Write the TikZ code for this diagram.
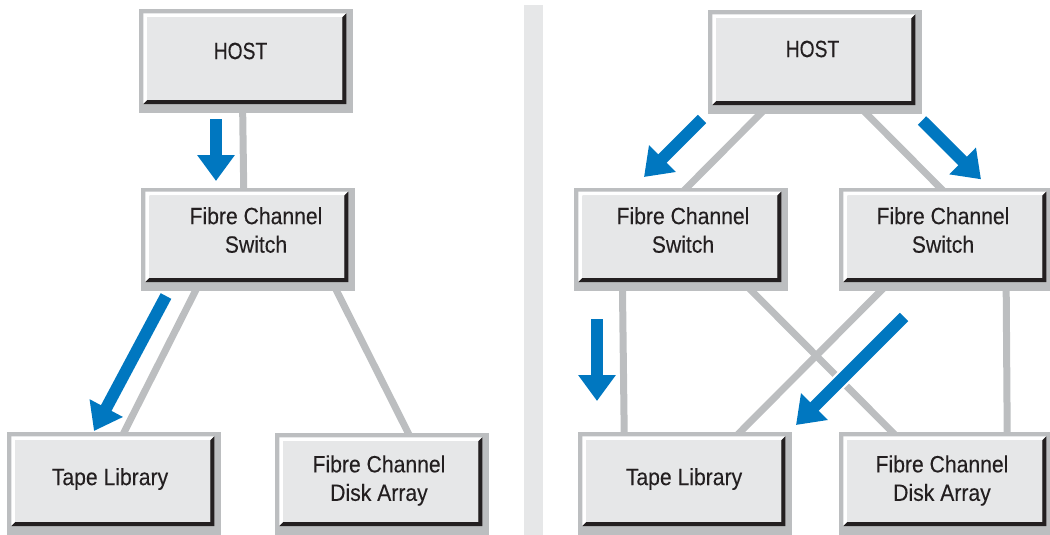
\documentclass[tikz,border=0pt]{standalone}
\usepackage{fontspec}
\setmainfont[FakeStretch=0.90,FakeBold=0.15]{Liberation Sans}
\newfontfamily\hostfont[FakeStretch=0.82,FakeBold=0.15]{Liberation Sans}
\usetikzlibrary{arrows.meta,calc}
\definecolor{frameg}{HTML}{BCBEC0}
\definecolor{faceg}{HTML}{E6E7E8}
\definecolor{bluea}{HTML}{0077C0}
\definecolor{ink}{HTML}{231F20}
\pgfdeclarelayer{lines}\pgfsetlayers{lines,main}
\tikzset{
  link/.style={draw=frameg,line width=7pt,shorten <=-5pt,shorten >=-5pt},
  flow/.style={draw=bluea,line width=12pt,-{Triangle[length=26pt,width=36pt]}},
  halo/.style={draw=white,line width=16pt,shorten >=30pt},
  boxtext/.style={text=ink,font=\fontsize{23.5}{28.5}\selectfont,align=center,inner sep=0pt},
  frame/.style={fill=frameg,draw=none,inner sep=0pt,anchor=north west}
}
% name, x0, y0, x1, y1, text x, text y, text
\newcommand{\panel}[8]{%
  \pgfmathsetmacro{\pw}{#4-#2}\pgfmathsetmacro{\ph}{#5-#3}%
  \node[frame,minimum width=\pw pt,minimum height=\ph pt] (#1) at (#2,#3) {};
  \pgfmathsetmacro{\xa}{#2+4.3}\pgfmathsetmacro{\ya}{#3+4.3}%
  \pgfmathsetmacro{\xb}{#4-6.7}\pgfmathsetmacro{\yb}{#5-9}%
  \pgfmathsetmacro{\xc}{\xa+4}\pgfmathsetmacro{\yc}{\ya+4}%
  \pgfmathsetmacro{\xd}{\xb-4}\pgfmathsetmacro{\yd}{\yb-4}%
  \fill[white] (\xa,\ya) -- (\xb,\ya) -- (\xd,\yc) -- (\xc,\yc) -- (\xc,\yd) -- (\xa,\yb) -- cycle;
  \fill[ink] (\xb,\yb) -- (\xb,\ya) -- (\xd,\yc) -- (\xd,\yd) -- (\xc,\yd) -- (\xa,\yb) -- cycle;
  \fill[faceg] (\xc,\yc) rectangle (\xd,\yd);
  \node[boxtext] (#1t) at (#6,#7) {#8};
}
\begin{document}
\begin{tikzpicture}[x=1pt,y=-1pt]
\useasboundingbox (0,0) rectangle (1050,535);
\fill[faceg] (524,5) rectangle (543,535);
\panel{lh}{139}{9}{353}{113}{240.5}{51}{\hostfont HOST}
\panel{ls}{141}{187.3}{355}{291}{256}{230}{Fibre Channel\\Switch}
\panel{lt}{7}{432}{221}{535}{110}{479}{Tape Library}
\panel{ld}{275}{433}{489}{535}{379}{480.5}{Fibre Channel\\Disk Array}
\panel{rh}{708}{10}{922}{114}{812.5}{49}{\hostfont HOST}
\panel{ra}{574}{187.3}{788}{291}{683}{230}{Fibre Channel\\Switch}
\panel{rb}{839}{187.3}{1053}{291}{943}{230}{Fibre Channel\\Switch}
\panel{rt}{578}{432}{792}{535}{684}{479}{Tape Library}
\panel{rd}{839}{432}{1053}{535}{942}{480.5}{Fibre Channel\\Disk Array}
\begin{pgfonlayer}{lines}
\draw[link] ([xshift=-3.5pt]lh.south) -- ([xshift=-4.5pt]ls.north);
\draw[link] ([xshift=-53pt]ls.south) -- ([xshift=10pt]lt.north);
\draw[link] ([xshift=88.7pt]ls.south) -- ([xshift=26pt]ld.north);
\draw[link] ([xshift=-55.5pt]rh.south) -- ([xshift=6pt]ra.north);
\draw[link] ([xshift=52pt]rh.south) -- ([xshift=-6.5pt]rb.north);
\draw[link] ([xshift=-58.7pt]ra.south) -- ([xshift=-61pt]rt.north);
\draw[link] ([xshift=71pt]ra.south) -- ([xshift=-54pt]rd.north);
\draw[link] ([xshift=-66pt]rb.south) -- ([xshift=55pt]rt.north);
\draw[link] ([xshift=60pt]rb.south) -- ([xshift=61pt]rd.north);
\end{pgfonlayer}
\coordinate (f1a) at (216,119); \coordinate (f1b) at (216,181);
\coordinate (f2a) at (166,296); \coordinate (f2b) at (94,431);
\coordinate (f3a) at (702,119); \coordinate (f3b) at (644,177);
\coordinate (f4a) at (922,120.5); \coordinate (f4b) at (981,179.3);
\coordinate (f5a) at (597,319); \coordinate (f5b) at (597,401);
\coordinate (f6a) at (904,317); \coordinate (f6b) at (796,425);
\draw[halo] (f6a) -- (f6b);
\foreach \n in {1,...,6} \draw[flow] (f\n a) -- (f\n b);
\end{tikzpicture}
\end{document}
